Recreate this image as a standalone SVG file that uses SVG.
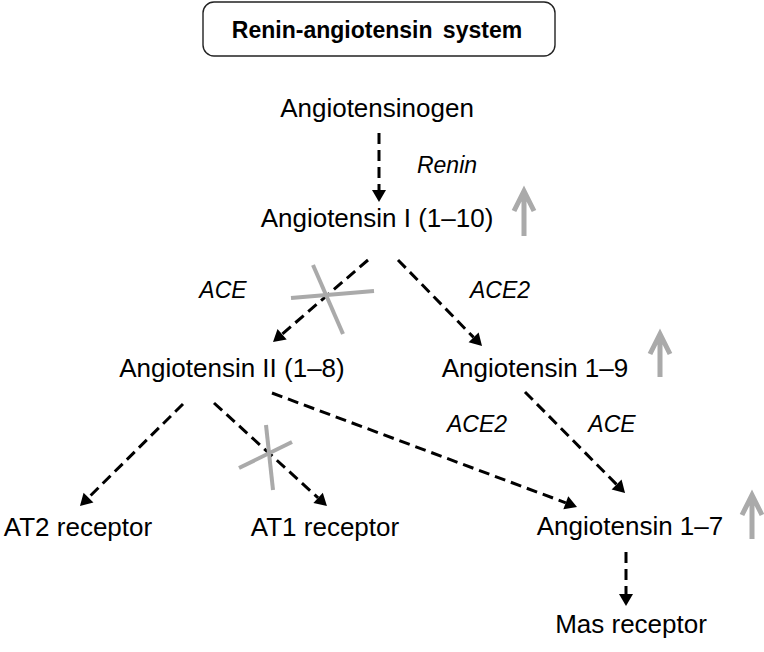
<svg xmlns="http://www.w3.org/2000/svg" width="764" height="652" viewBox="0 0 764 652">
<style>
.t{font-family:"Liberation Sans",Arial,sans-serif;font-size:26px;fill:#000;text-anchor:middle}
.e{font-family:"Liberation Sans",Arial,sans-serif;font-size:23px;font-style:italic;fill:#000;text-anchor:middle}
.d{fill:none;stroke:#000;stroke-width:3;stroke-dasharray:11 6;marker-end:url(#ah)}
.x{stroke:#aaa;stroke-width:4;fill:none}
.up{stroke:#aaa;stroke-width:5;fill:none}
</style>
<defs>
<marker id="ah" markerUnits="userSpaceOnUse" markerWidth="14" markerHeight="16" refX="0" refY="7" orient="auto" viewBox="0 0 14 14" overflow="visible">
<path d="M0,0 L12,7 L0,14 z" fill="#000"/>
</marker>
</defs>
<rect width="764" height="652" fill="#fff"/>
<g id="title">
<rect x="203" y="2" width="352" height="54" rx="11" fill="#fff" stroke="#222" stroke-width="1.4"/>
<text x="377" y="38" font-family="Liberation Sans,Arial,sans-serif" font-size="23" font-weight="bold" text-anchor="middle" fill="#000" word-spacing="4">Renin-angiotensin system</text>
</g>
<g id="connectors">
<line class="d" x1="379" y1="133" x2="379" y2="190"/>
<line class="d" x1="368" y1="260" x2="282.1" y2="334.2"/>
<line class="d" x1="398" y1="260" x2="473.6" y2="337.4"/>
<line class="d" x1="183" y1="404" x2="88.5" y2="497.6"/>
<line class="d" x1="214" y1="403" x2="318.1" y2="497.9"/>
<line class="d" x1="272" y1="393" x2="565.8" y2="502.8"/>
<line class="d" x1="525" y1="392" x2="616.6" y2="484.5"/>
<line class="d" x1="626" y1="552" x2="626" y2="594"/>
</g>
<g id="blocks">
<line class="x" x1="291" y1="298" x2="374" y2="291"/>
<line class="x" x1="313" y1="265" x2="343" y2="334"/>
<line class="x" x1="266" y1="425" x2="273" y2="490"/>
<line class="x" x1="239" y1="468" x2="292" y2="442"/>
</g>
<g id="increase-arrows">
<path class="up" d="M524,236 L524,191 M514,211 L524,191 L534,211"/>
<path class="up" d="M660,377 L660,334 M650,354 L660,334 L670,354"/>
<path class="up" d="M752,539 L752,495 M742,515 L752,495 L762,515"/>
</g>
<g id="enzyme-labels">
<text class="e" x="447" y="173" font-size="25">Renin</text>
<text class="e" x="223" y="298">ACE</text>
<text class="e" x="500" y="298">ACE2</text>
<text class="e" x="477" y="432">ACE2</text>
<text class="e" x="612" y="432">ACE</text>
</g>
<g id="angiotensinogen"><text class="t" x="377" y="117">Angiotensinogen</text></g>
<g id="angiotensin-I"><text class="t" x="377" y="227">Angiotensin I (1–10)</text></g>
<g id="angiotensin-II"><text class="t" x="232" y="377">Angiotensin II (1–8)</text></g>
<g id="angiotensin-1-9"><text class="t" x="535" y="377">Angiotensin 1–9</text></g>
<g id="at2-receptor"><text class="t" x="78" y="536">AT2 receptor</text></g>
<g id="at1-receptor"><text class="t" x="325" y="536">AT1 receptor</text></g>
<g id="angiotensin-1-7"><text class="t" x="630" y="535">Angiotensin 1–7</text></g>
<g id="mas-receptor"><text class="t" x="631" y="633">Mas receptor</text></g>
</svg>
